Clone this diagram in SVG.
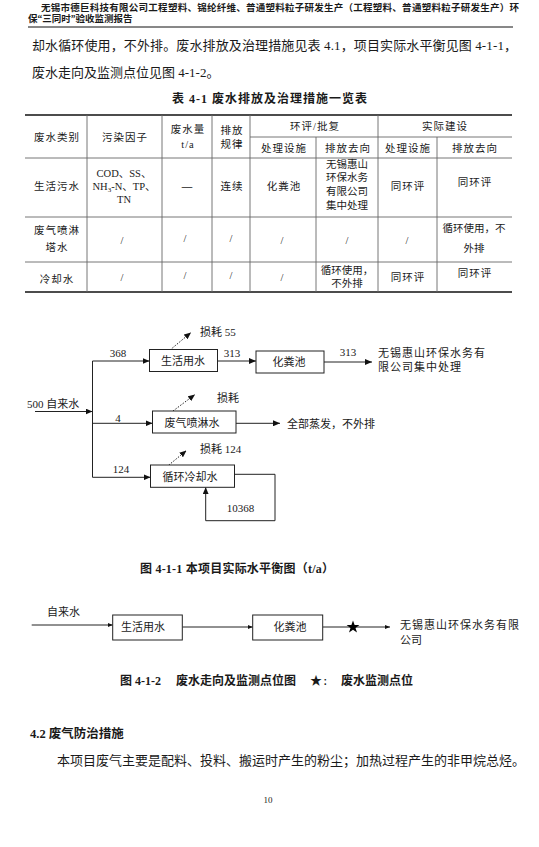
<svg xmlns="http://www.w3.org/2000/svg" width="539" height="847" viewBox="0 0 539 847">
<style>
text{font-family:"Liberation Serif","Noto Sans CJK SC",serif;fill:#1a1a1a}
.hd{font-size:9.5px;font-weight:700}
.body{font-size:13px}
.cap{font-size:12px;font-weight:700}
.tc{font-size:10.5px;text-anchor:middle;letter-spacing:1px}
.tl{font-size:10.5px;text-anchor:middle}
.lab{font-size:11px}
.num{font-size:11px;text-anchor:middle}
.box{fill:#fff;stroke:#222;stroke-width:1}
.ln{fill:none;stroke:#222;stroke-width:1}
.dot{fill:none;stroke:#222;stroke-width:1;stroke-dasharray:1.5 1.5}
.tk{stroke:#111;stroke-width:1.6}
.tn{stroke:#666;stroke-width:0.9}
</style>
<defs>
<marker id="ah" markerUnits="userSpaceOnUse" markerWidth="7" markerHeight="6" refX="7" refY="3" orient="auto"><path d="M0,0 L7,3 L0,6 z" fill="#111"/></marker>
<marker id="ahs" markerUnits="userSpaceOnUse" markerWidth="5" markerHeight="4" refX="5" refY="2" orient="auto"><path d="M0,0 L5,2 L0,4 z" fill="#111"/></marker>
</defs>
<rect width="539" height="847" fill="#fff"/>

<!-- page header -->
<text class="hd" x="41" y="11.3" textLength="478">无锡市德巨科技有限公司工程塑料、锦纶纤维、普通塑料粒子研发生产（工程塑料、普通塑料粒子研发生产）环</text>
<text class="hd" x="28" y="21.8">保“三同时”验收监测报告</text>
<line x1="28" y1="27" x2="513" y2="27" stroke="#111" stroke-width="1"/>

<!-- body text -->
<text class="body" x="32" y="49.8" textLength="485">却水循环使用，不外排。废水排放及治理措施见表 4.1，项目实际水平衡见图 4-1-1，</text>
<text class="body" x="32" y="76.5">废水走向及监测点位见图 4-1-2。</text>
<text class="cap" x="172" y="102.8" textLength="195">表 4-1  废水排放及治理措施一览表</text>

<!-- table -->
<g id="table">
<line class="tk" x1="25" y1="115" x2="512" y2="115"/>
<line class="tn" x1="250" y1="137" x2="512" y2="137"/>
<line class="tn" x1="25" y1="158" x2="512" y2="158"/>
<line class="tn" x1="25" y1="217" x2="512" y2="217"/>
<line class="tn" x1="25" y1="262" x2="512" y2="262"/>
<line class="tk" x1="25" y1="292" x2="512" y2="292"/>
<line class="tn" x1="87" y1="115" x2="87" y2="292"/>
<line class="tn" x1="162" y1="115" x2="162" y2="292"/>
<line class="tn" x1="212" y1="115" x2="212" y2="292"/>
<line class="tn" x1="250" y1="115" x2="250" y2="292"/>
<line class="tn" x1="316" y1="137" x2="316" y2="292"/>
<line class="tn" x1="378" y1="115" x2="378" y2="292"/>
<line class="tn" x1="437" y1="137" x2="437" y2="292"/>

<text class="tc" x="57" y="141">废水类别</text>
<text class="tc" x="125" y="141">污染因子</text>
<text class="tc" x="188" y="133">废水量</text>
<text class="tc" x="188" y="147.5">t/a</text>
<text class="tc" x="232" y="134">排放</text>
<text class="tc" x="232" y="148">规律</text>
<text class="tc" x="315" y="130">环评/批复</text>
<text class="tc" x="445" y="130">实际建设</text>
<text class="tc" x="284" y="152">处理设施</text>
<text class="tc" x="348" y="152">排放去向</text>
<text class="tc" x="408" y="152">处理设施</text>
<text class="tc" x="475" y="152">排放去向</text>

<text class="tc" x="57" y="190">生活污水</text>
<text class="tl" x="124" y="176.5">COD、SS、</text>
<text class="tl" x="124" y="189.5">NH<tspan font-size="7" dy="2">3</tspan><tspan dy="-2">-N、TP、</tspan></text>
<text class="tl" x="124" y="203">TN</text>
<text class="tl" x="187" y="190" font-size="15" font-weight="700">—</text>
<text class="tc" x="232" y="190">连续</text>
<text class="tc" x="284" y="190">化粪池</text>
<text class="tl" x="347" y="167.5">无锡惠山</text>
<text class="tl" x="347" y="181">环保水务</text>
<text class="tl" x="347" y="194.5">有限公司</text>
<text class="tl" x="347" y="208.5">集中处理</text>
<text class="tc" x="408" y="190">同环评</text>
<text class="tc" x="475" y="186">同环评</text>

<text class="tc" x="57" y="234">废气喷淋</text>
<text class="tc" x="57" y="250.5">塔水</text>
<text class="tl" x="122" y="244">/</text>
<text class="tl" x="185" y="242">/</text>
<text class="tl" x="231" y="242">/</text>
<text class="tl" x="282" y="244">/</text>
<text class="tl" x="347" y="244">/</text>
<text class="tl" x="407" y="244">/</text>
<text class="tl" x="474" y="231.5">循环使用，不</text>
<text class="tl" x="474" y="252">外排</text>

<text class="tc" x="57" y="283">冷却水</text>
<text class="tl" x="122" y="281">/</text>
<text class="tl" x="185" y="279">/</text>
<text class="tl" x="231" y="279">/</text>
<text class="tl" x="282" y="281">/</text>
<text class="tl" x="347" y="273.5">循环使用，</text>
<text class="tl" x="347" y="287">不外排</text>
<text class="tc" x="408" y="281">同环评</text>
<text class="tc" x="475" y="277">同环评</text>
</g>

<!-- water balance diagram -->
<g id="connectors1">
<line class="ln" x1="35" y1="411.5" x2="92.5" y2="411.5" marker-end="url(#ah)"/>
<polyline class="ln" points="92.5,361 92.5,477.3 150.5,477.3" marker-end="url(#ah)"/>
<line class="ln" x1="92.5" y1="361" x2="149.5" y2="361" marker-end="url(#ah)"/>
<line class="ln" x1="92.5" y1="423.3" x2="152.5" y2="423.3" marker-end="url(#ah)"/>
<line class="ln" x1="217.5" y1="361" x2="256" y2="361" marker-end="url(#ah)"/>
<line class="ln" x1="324" y1="362" x2="372" y2="362" marker-end="url(#ah)"/>
<line class="ln" x1="236" y1="423.3" x2="280" y2="423.3" marker-end="url(#ah)"/>
<polyline class="ln" points="234.5,474.3 275,474.3 275,520.7 205.7,520.7 205.7,487.3" marker-end="url(#ah)"/>
<line class="dot" x1="170" y1="350" x2="191" y2="332.5" marker-end="url(#ah)"/>
<line class="dot" x1="173" y1="411" x2="195" y2="394.5" marker-end="url(#ah)"/>
<line class="dot" x1="164" y1="469" x2="186.5" y2="450.5" marker-end="url(#ah)"/>
</g>
<g id="lbl1">
<text class="lab" x="27" y="407.5">500 自来水</text>
<text class="num" x="118" y="356.5">368</text>
<text class="num" x="232" y="356.5">313</text>
<text class="num" x="348" y="356">313</text>
<text class="num" x="118" y="422">4</text>
<text class="num" x="121" y="473">124</text>
<text class="num" x="240.5" y="512">10368</text>
<text class="lab" x="200" y="335.7">损耗 55</text>
<text class="lab" x="217" y="401.7">损耗</text>
<text class="lab" x="200" y="453.3">损耗 124</text>
<text class="lab" x="378" y="356.8" letter-spacing="1">无锡惠山环保水务有</text>
<text class="lab" x="378" y="371.4" letter-spacing="1">限公司集中处理</text>
<text class="lab" x="287" y="427.5">全部蒸发，不外排</text>
</g>
<g id="n-shenghuo">
<rect class="box" x="149.5" y="349.5" width="68" height="22"/>
<text class="lab" x="183" y="364.5" text-anchor="middle">生活用水</text>
</g>
<g id="n-huafenchi">
<rect class="box" x="256" y="351" width="68" height="22"/>
<text class="lab" x="289" y="366" text-anchor="middle">化粪池</text>
</g>
<g id="n-penlin">
<rect class="box" x="152.5" y="411" width="83.5" height="22"/>
<text class="lab" x="192" y="427" text-anchor="middle">废气喷淋水</text>
</g>
<g id="n-lengque">
<rect class="box" x="150.5" y="465" width="84" height="22.3"/>
<text class="lab" x="190" y="481.3" text-anchor="middle">循环冷却水</text>
</g>
<text class="cap" x="140" y="572.5" textLength="194">图 4-1-1 本项目实际水平衡图（t/a）</text>

<!-- wastewater flow diagram -->
<g id="connectors2">
<line class="ln" x1="31.7" y1="625" x2="112.7" y2="625" marker-end="url(#ahs)"/>
<line class="ln" x1="182.3" y1="627" x2="252.7" y2="627" marker-end="url(#ahs)"/>
<line class="ln" x1="322.7" y1="627" x2="390" y2="627" marker-end="url(#ahs)"/>
<polygon points="353,620.5 354.6,625 359.4,625 355.5,627.9 357,632.5 353,629.7 349,632.5 350.5,627.9 346.6,625 351.4,625" fill="#000"/>
</g>
<text class="lab" x="47" y="615.8">自来水</text>
<g id="n2-shenghuo">
<rect class="box" x="112.7" y="615" width="69.6" height="25"/>
<text class="lab" x="143" y="631.3" text-anchor="middle">生活用水</text>
</g>
<g id="n2-huafenchi">
<rect class="box" x="252.7" y="615" width="70" height="25"/>
<text class="lab" x="290" y="631" text-anchor="middle">化粪池</text>
</g>
<text class="lab" x="400" y="629" letter-spacing="1">无锡惠山环保水务有限</text>
<text class="lab" x="400" y="644">公司</text>
<text class="cap" y="684.5" font-size="12.5"><tspan x="120">图 4-1-2</tspan><tspan x="176">废水走向及监测点位图</tspan><tspan x="310">★</tspan><tspan x="323" font-size="9">：</tspan><tspan x="341">废水监测点位</tspan></text>

<!-- section 4.2 -->
<text x="30" y="737.5" font-size="12.5" font-weight="700">4.2 废气防治措施</text>
<text class="body" x="57" y="765">本项目废气主要是配料、投料、搬运时产生的粉尘；加热过程产生的非甲烷总烃。</text>
<text x="268" y="803" font-size="9" text-anchor="middle">10</text>
</svg>
